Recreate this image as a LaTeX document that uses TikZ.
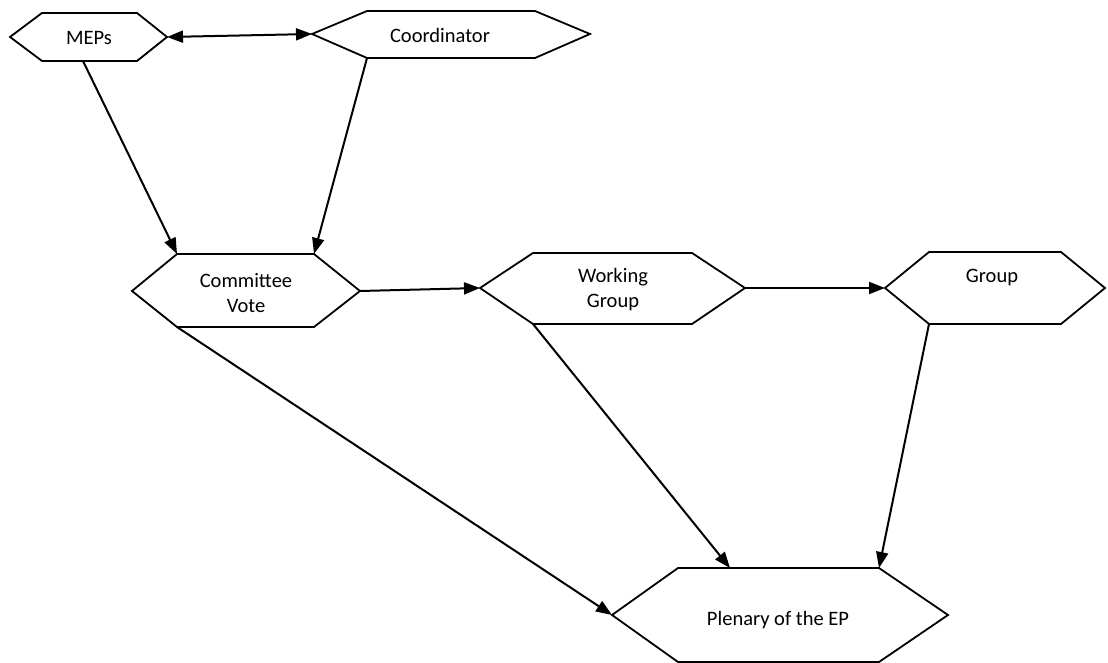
\documentclass[tikz,border=0pt]{standalone}
\usepackage{fontspec}
\setmainfont{Carlito}
\usetikzlibrary{arrows.meta}

\begin{document}
\begin{tikzpicture}[
    x=1pt,y=-1pt,
    hex/.style={line width=1.8pt,line join=miter},
    lbl/.style={font=\fontsize{20.5}{25}\selectfont,align=center,inner sep=0pt},
    arr/.style={-{Triangle[length=16pt,width=12pt]},line width=2pt},
    biarr/.style={{Triangle[length=16pt,width=12pt]}-{Triangle[length=16pt,width=12pt]},line width=2pt}
  ]
  \useasboundingbox (0,0) rectangle (1108,663);

  % hexagons, corners named
  \draw[hex] (10,37) coordinate(meps-w) -- (42,13) -- (137,13) -- (167,37) coordinate(meps-e) -- (137,61) -- (83,61) coordinate(meps-s) -- (42,61) -- cycle;
  \draw[hex] (312,34) coordinate(coord-w) -- (367,11) -- (535,11) -- (590,34) -- (535,58) -- (367,58) coordinate(coord-s) -- cycle;
  \draw[hex] (132,291) -- (177,254) coordinate(cv-nw) -- (314,254) coordinate(cv-ne) -- (360,291) coordinate(cv-e) -- (314,327) -- (177,327) coordinate(cv-sw) -- cycle;
  \draw[hex] (480,288) coordinate(wg-w) -- (533,253) -- (692,253) -- (745,288) coordinate(wg-e) -- (692,324) -- (533,324) coordinate(wg-sw) -- cycle;
  \draw[hex] (885,288) coordinate(grp-w) -- (929,252) -- (1061,252) -- (1105,288) -- (1061,324) -- (929,324) coordinate(grp-sw) -- cycle;
  \draw[hex] (612,615) coordinate(ep-w) -- (678,568) -- (730,568) coordinate(ep-n) -- (879,568) coordinate(ep-ne) -- (948,615) -- (879,662) -- (678,662) -- cycle;

  \node[lbl] (meps) at (89,38) {MEPs};
  \node[lbl] (coord) at (440,35) {Coordinator};
  \node[lbl] (cv) at (246,293) {Committee\\Vote};
  \node[lbl] (wg) at (613,290) {Working\\Group};
  \node[lbl] (grp) at (992,277) {Group};
  \node[lbl] (ep) at (778,620) {Plenary of the EP};

  \draw[biarr](meps-e)--(coord-w);
  \draw[arr](meps-s)--(cv-nw); \draw[arr](coord-s)--(cv-ne);
  \draw[arr](cv-e)--(wg-w); \draw[arr](wg-e)--(grp-w);
  \draw[arr](cv-sw)--(ep-w); \draw[arr](wg-sw)--(ep-n); \draw[arr](grp-sw)--(ep-ne);
\end{tikzpicture}
\end{document}
